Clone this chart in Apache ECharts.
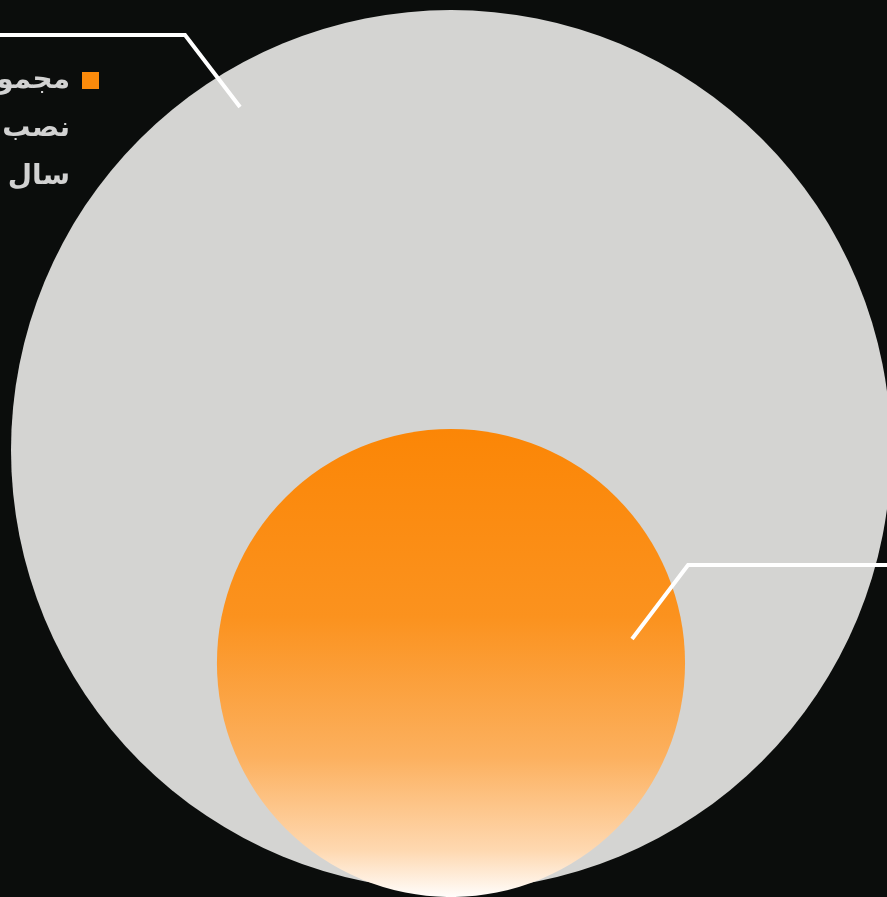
<!DOCTYPE html>
<html>
<head>
<meta charset="utf-8">
<script src="https://cdn.jsdelivr.net/npm/echarts@6/dist/echarts.min.js"></script>
<style>
  html, body { margin: 0; padding: 0; background: #0b0d0c; }
  #main { width: 887px; height: 897px; }
</style>
</head>
<body>
<div id="main"></div>
<script>
var chartDom = document.getElementById('main');
var myChart = echarts.init(chartDom);

// data
var seriesNames = ['مجموع ظرفیت نیروگاهی کشور', 'مجموع ظرفیت نصب شده'];
var legendLines = ['مجموع ظرفیت', 'نصب شده تا', 'سال ۲۰۲۲'];
var seriesValues = [100, 28.3];
var seriesColors = ['#d4d4d2', '#fb8a0b'];

// layout in units of the big circle radius
var xMin = -1.025, xMax = 0.991;
var yMin = -1.016, yMax = 1.023;

function radiusOf(v) {
  return Math.sqrt(v / seriesValues[0]);
}

var rSmall = radiusOf(seriesValues[1]);
var circles = [
  [0, 0, radiusOf(seriesValues[0])],
  [0, yMin + rSmall, rSmall]
];

// label line geometry (relative to circle centre, in radius units)
var leaders = [
  { start: [-0.4795, 0.7795], bend: [-0.6045, 0.9432], dir: -1 },
  { start: [0.7735, 0.1026], bend: [1.0128, 0.4188], dir: 1 }
];

var orangeFill = new echarts.graphic.LinearGradient(0, 0, 0, 1, [
  { offset: 0, color: '#fb8606' },
  { offset: 0.4, color: '#fb921e' },
  { offset: 0.7, color: '#fcb05e' },
  { offset: 0.9, color: '#fed8b0' },
  { offset: 1, color: '#fffdfb' }
]);

function makeRender(idx) {
  return function (params, api) {
    var c = api.coord([api.value(0), api.value(1)]);
    var r = api.size([api.value(2), 0])[0];
    var ld = leaders[idx];
    var p0 = [c[0] + ld.start[0] * r, c[1] - ld.start[1] * r];
    var p1 = [c[0] + ld.bend[0] * r, c[1] - ld.bend[1] * r];
    var p2 = [p1[0] + ld.dir * 1000, p1[1]];
    return {
      type: 'group',
      children: [
        {
          type: 'circle',
          shape: { cx: c[0], cy: c[1], r: r },
          style: { fill: idx === 1 ? orangeFill : seriesColors[0] }
        },
        {
          type: 'polyline',
          shape: { points: [p0, p1, p2] },
          style: { stroke: '#ffffff', lineWidth: 4, fill: null }
        }
      ]
    };
  };
}

var option = {
  backgroundColor: '#0b0d0c',
  animation: false,
  grid: { left: 0, right: 0, top: 0, bottom: 0 },
  xAxis: { type: 'value', min: xMin, max: xMax, show: false },
  yAxis: { type: 'value', min: yMin, max: yMax, show: false },
  legend: {
    right: 783,
    top: -44.5,
    align: 'right',
    itemWidth: 17,
    itemHeight: 17,
    icon: 'rect',
    data: [{ name: seriesNames[1], itemStyle: { color: seriesColors[1] } }],
    formatter: function () {
      // two blank lines first so the icon sits beside the first text line
      return ['', ''].concat(legendLines).join('\n');
    },
    textStyle: {
      color: '#d2d2d2',
      fontSize: 28,
      fontWeight: 'bold',
      fontFamily: 'DejaVu Sans',
      lineHeight: 48,
      padding: [0, 7, 0, 0]
    }
  },
  series: [
    {
      name: seriesNames[0],
      type: 'custom',
      coordinateSystem: 'cartesian2d',
      itemStyle: { color: seriesColors[0] },
      renderItem: makeRender(0),
      data: [circles[0]]
    },
    {
      name: seriesNames[1],
      type: 'custom',
      coordinateSystem: 'cartesian2d',
      itemStyle: { color: seriesColors[1] },
      renderItem: makeRender(1),
      data: [circles[1]]
    }
  ]
};

myChart.setOption(option);
</script>
</body>
</html>
